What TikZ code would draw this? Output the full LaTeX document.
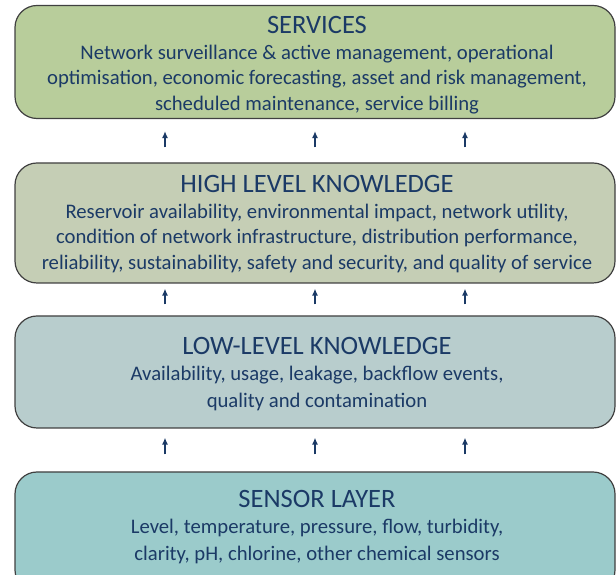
\documentclass[tikz,border=0pt]{standalone}
\usepackage{fontspec}
\setmainfont{Carlito}
\usetikzlibrary{arrows.meta}
\definecolor{svgreen}{HTML}{B8CD9B}
\definecolor{hksage}{HTML}{C5CEB5}
\definecolor{lkgray}{HTML}{B8CDCD}
\definecolor{snteal}{HTML}{9BCBCB}
\definecolor{navy}{HTML}{1B3A66}
\definecolor{edgegray}{HTML}{404040}
\newcommand{\layertitle}{\fontsize{26.5}{28}\selectfont}
\newcommand{\layerbody}{\fontsize{20.7}{25.5}\selectfont}

\begin{document}
\begin{tikzpicture}[x=1pt, y=1pt,
  layer/.style={draw=edgegray, line width=1.2pt, rounded corners=22pt,
    minimum width=600pt},
  layertext/.style={inner sep=0pt, align=center, text=navy, font=\layerbody},
  uparrow/.style={-{Latex[length=7pt, width=6pt]}, navy, line width=1.4pt},
]
\useasboundingbox (0,0) rectangle (616,575);
\clip (0,0) rectangle (616,575);

% ===== layers, top to bottom =====
\node[layer, fill=svgreen, minimum height=113pt] (serv) at (315,513) {};
\node[layertext] (servtext) at ([xshift=2pt, yshift=-3pt]serv.center)
  {{\layertitle SERVICES}\\[0pt]
   Network surveillance \& active management, operational\\
   optimisation, economic forecasting, asset and risk management,\\
   scheduled maintenance, service billing};

\node[layer, fill=hksage, minimum height=120pt] (high) at (315,352) {};
\node[layertext] (hightext) at ([xshift=2pt, yshift=-1pt]high.center)
  {{\layertitle HIGH LEVEL KNOWLEDGE}\\[0pt]
   Reservoir availability, environmental impact, network utility,\\
   condition of network infrastructure, distribution performance,\\
   reliability, sustainability, safety and security, and quality of service};

\node[layer, fill=lkgray, minimum height=112pt] (low) at (315,203) {};
\node[layertext] (lowtext) at ([xshift=2pt, yshift=-2pt]low.center)
  {{\layertitle LOW-LEVEL KNOWLEDGE}\\[1pt]
   Availability, usage, leakage, backflow events,\\[1.5pt]
   quality and contamination};

\node[layer, fill=snteal, minimum height=120pt] (sensor) at (315,43) {};
\node[layertext] (sensortext) at ([xshift=2pt, yshift=5pt]sensor.center)
  {{\layertitle SENSOR LAYER}\\[1pt]
   Level, temperature, pressure, flow, turbidity,\\[1.5pt]
   clarity, pH, chlorine, other chemical sensors};

% ===== upward arrows between layers =====
\foreach \lo/\hi/\sa/\sb in {sensor/low/17/9, low/high/11/5, high/serv/15/12}
  \foreach \dx in {-150,0,150}
    \draw[uparrow, shorten <=\sa pt, shorten >=\sb pt]
      ([xshift=\dx pt]\lo.north) -- ([xshift=\dx pt]\hi.south);

\end{tikzpicture}
\end{document}
